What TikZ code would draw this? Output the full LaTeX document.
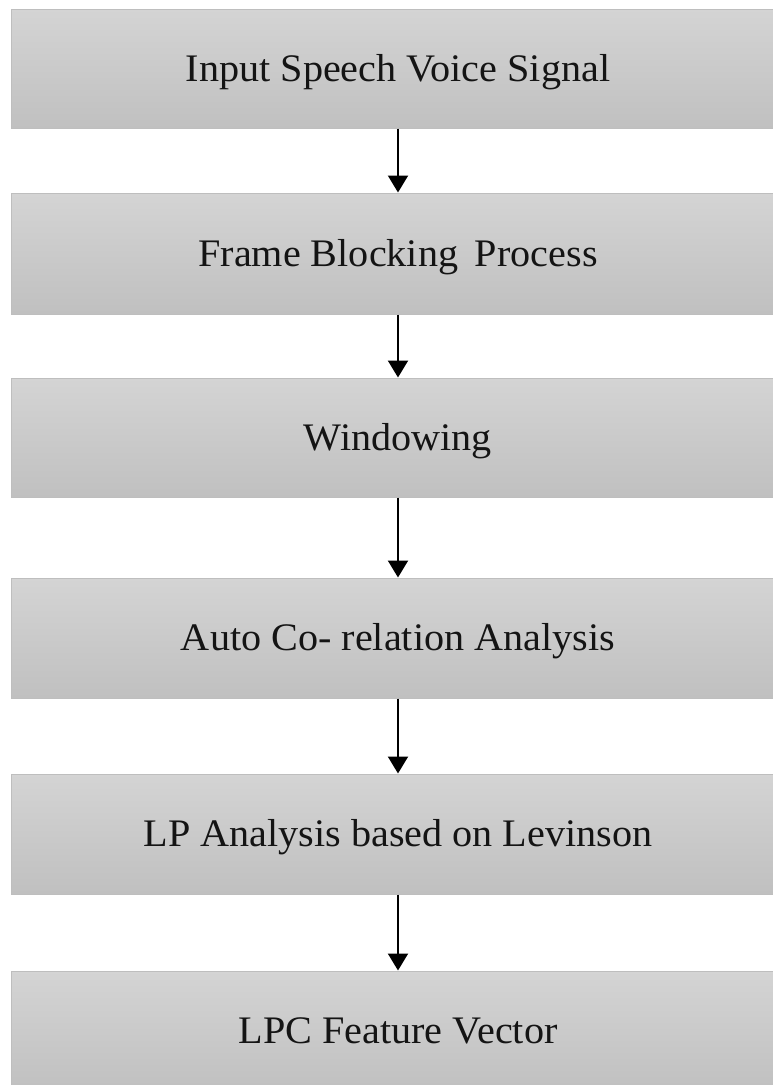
\documentclass[tikz,border=0pt]{standalone}
\usepackage{fontspec}
\setmainfont{Liberation Serif}
\usetikzlibrary{arrows.meta}
\definecolor{boxtop}{RGB}{212,212,212}
\definecolor{boxbot}{RGB}{192,192,192}
\definecolor{boxline}{RGB}{190,190,190}
\tikzset{
  stage/.style={rectangle, draw=boxline, line width=1pt, top color=boxtop, bottom color=boxbot,
    minimum width=774pt, inner sep=0pt, text height=25pt, text depth=0pt,
    font=\fontsize{39}{44}\selectfont, text=black!92},
  flow/.style={line width=2pt, -{Triangle[length=17pt,width=20pt]}}
}
\begin{document}
\begin{tikzpicture}[x=1pt,y=-1pt]
\useasboundingbox (0,0) rectangle (773,1085);
\fill[white] (0,0) rectangle (773,1085);
\node[stage, minimum height=119pt] (b1) at (398,68.5) {\scalebox{1.03}[1]{Input Speech Voice Signal}};
\node[stage, minimum height=121pt] (b2) at (398,253.5) {\scalebox{1.03}[1]{Frame Blocking\, Process}};
\node[stage, minimum height=119pt] (b3) at (398,437.5) {\scalebox{1.03}[1]{Windowing}};
\node[stage, minimum height=120pt] (b4) at (398,638) {\scalebox{1.03}[1]{Auto Co- relation Analysis}};
\node[stage, minimum height=120pt] (b5) at (398,834) {\scalebox{1.03}[1]{LP Analysis based on Levinson}};
\node[stage, minimum height=120pt] (b6) at (398,1031) {\scalebox{1.03}[1]{LPC Feature Vector}};
\draw[flow] (b1.south) -- (b2.north);
\draw[flow] (b2.south) -- (b3.north);
\draw[flow] (b3.south) -- (b4.north);
\draw[flow] (b4.south) -- (b5.north);
\draw[flow] (b5.south) -- (b6.north);
\end{tikzpicture}
\end{document}
